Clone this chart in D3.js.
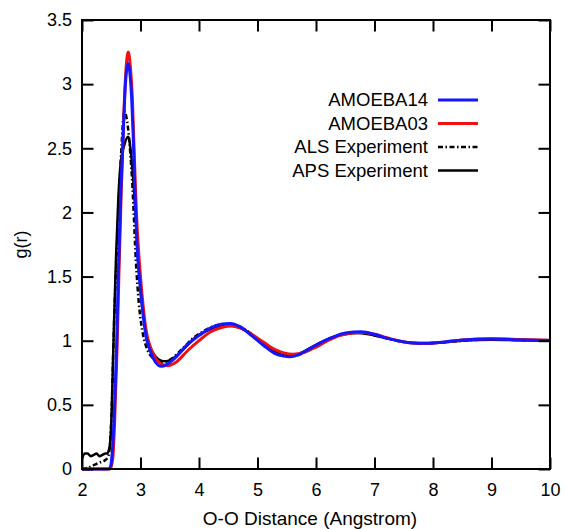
<!DOCTYPE html>
<html>
<head>
<meta charset="utf-8">
<script src="https://cdn.jsdelivr.net/npm/d3@7/dist/d3.min.js"></script>
<style>
  html, body { margin: 0; padding: 0; background: #fff; }
  svg { display: block; font-family: "Liberation Sans", Arial, Helvetica, sans-serif; }
</style>
</head>
<body>
<svg id="chart" width="565" height="529"></svg>
<script>
// ---------- DATA ----------
const seriesNames = ["AMOEBA14", "AMOEBA03", "ALS Experiment", "APS Experiment"];

// AMOEBA14 (blue)
const amoeba14R = [2.0, 2.45, 2.48, 2.5, 2.52, 2.55, 2.59, 2.62, 2.665, 2.70, 2.73, 2.76, 2.79, 2.82, 2.85, 2.875, 2.90, 2.94, 3.0, 3.05, 3.1, 3.16, 3.22, 3.3, 3.36, 3.45, 3.6, 3.8, 4.0, 4.2, 4.4, 4.53, 4.7, 4.9, 5.1, 5.3, 5.45, 5.55, 5.7, 5.9, 6.1, 6.3, 6.5, 6.77, 7.0, 7.2, 7.4, 7.6, 7.88, 8.2, 8.5, 9.0, 9.5, 10.0];
const amoeba14G = [0, 0, 0.01, 0.05, 0.15, 0.4, 0.93, 1.5, 2.18, 2.55, 2.9, 3.1, 3.16, 3.08, 2.88, 2.6, 2.22, 1.75, 1.4, 1.18, 1.02, 0.93, 0.86, 0.81, 0.80, 0.815, 0.87, 0.97, 1.04, 1.10, 1.13, 1.135, 1.11, 1.04, 0.965, 0.9, 0.88, 0.875, 0.89, 0.94, 0.99, 1.03, 1.06, 1.07, 1.05, 1.02, 1.0, 0.985, 0.98, 0.99, 1.005, 1.013, 1.006, 1.002];

// AMOEBA03 (red)
const amoeba03R = [2.0, 2.47, 2.5, 2.53, 2.56, 2.6, 2.63, 2.67, 2.71, 2.75, 2.79, 2.83, 2.86, 2.89, 2.93, 3.0, 3.05, 3.1, 3.17, 3.25, 3.35, 3.47, 3.6, 3.8, 4.0, 4.2, 4.4, 4.55, 4.7, 4.9, 5.1, 5.3, 5.45, 5.61, 5.8, 6.0, 6.2, 6.4, 6.6, 6.8, 7.0, 7.2, 7.4, 7.6, 7.9, 8.2, 8.5, 9.0, 9.5, 10.0];
const amoeba03G = [0, 0, 0.02, 0.1, 0.4, 0.95, 1.5, 2.15, 2.7, 3.1, 3.25, 3.12, 2.9, 2.5, 2.0, 1.5, 1.25, 1.07, 0.95, 0.87, 0.82, 0.805, 0.83, 0.92, 1.0, 1.07, 1.105, 1.115, 1.10, 1.05, 0.99, 0.93, 0.905, 0.895, 0.91, 0.95, 1.0, 1.04, 1.06, 1.065, 1.05, 1.025, 1.0, 0.985, 0.98, 0.99, 1.005, 1.016, 1.01, 1.003];

// ALS Experiment (dash-dot black)
const alsR = [2.0, 2.1, 2.2, 2.3, 2.4, 2.45, 2.48, 2.51, 2.535, 2.56, 2.59, 2.64, 2.68, 2.72, 2.76, 2.81, 2.865, 2.92, 2.97, 3.03, 3.1, 3.2, 3.3, 3.4, 3.5, 3.7, 3.9, 4.1, 4.3, 4.5, 4.7, 4.9, 5.1, 5.3, 5.5, 5.7, 5.9, 6.1, 6.3, 6.5, 6.7, 6.9, 7.1, 7.3, 7.5, 7.8, 8.1, 8.5, 9.0, 9.5, 10.0];
const alsG = [0, 0.01, 0.03, 0.05, 0.07, 0.1, 0.2, 0.5, 0.93, 1.3, 1.63, 2.18, 2.55, 2.79, 2.74, 2.55, 2.18, 1.63, 1.3, 1.08, 0.95, 0.87, 0.84, 0.835, 0.85, 0.93, 1.02, 1.08, 1.12, 1.13, 1.11, 1.05, 0.97, 0.91, 0.88, 0.89, 0.94, 0.99, 1.03, 1.055, 1.065, 1.055, 1.03, 1.01, 0.99, 0.98, 0.985, 1.0, 1.01, 1.005, 1.0];

// APS Experiment (solid black)
const apsR = [2.0, 2.05, 2.1, 2.15, 2.2, 2.25, 2.3, 2.35, 2.4, 2.43, 2.46, 2.48, 2.5, 2.535, 2.58, 2.62, 2.66, 2.72, 2.79, 2.84, 2.9, 2.96, 3.02, 3.08, 3.15, 3.25, 3.35, 3.44, 3.55, 3.75, 3.95, 4.15, 4.35, 4.5, 4.7, 4.9, 5.1, 5.3, 5.5, 5.65, 5.85, 6.05, 6.3, 6.5, 6.7, 6.9, 7.1, 7.3, 7.5, 7.8, 8.1, 8.5, 9.0, 9.5, 10.0];
const apsG = [0.08, 0.12, 0.12, 0.10, 0.11, 0.12, 0.10, 0.11, 0.12, 0.12, 0.15, 0.2, 0.35, 0.93, 1.63, 2.1, 2.38, 2.52, 2.59, 2.45, 2.1, 1.63, 1.3, 1.1, 0.97, 0.88, 0.845, 0.84, 0.86, 0.94, 1.03, 1.08, 1.11, 1.12, 1.10, 1.05, 0.97, 0.91, 0.885, 0.89, 0.93, 0.98, 1.03, 1.05, 1.06, 1.05, 1.03, 1.01, 0.99, 0.98, 0.985, 1.0, 1.008, 1.003, 1.0];

const xTicks = [2, 3, 4, 5, 6, 7, 8, 9, 10];
const xTickLabels = ["2", "3", "4", "5", "6", "7", "8", "9", "10"];
const yTicks = [0, 0.5, 1, 1.5, 2, 2.5, 3, 3.5];
const yTickLabels = ["0", "0.5", "1", "1.5", "2", "2.5", "3", "3.5"];

const xTitle = "O-O Distance (Angstrom)";
const yTitle = "g(r)";

// ---------- LAYOUT / STYLE ----------
const W = 565, H = 529;
const margin = { left: 82, right: 15, top: 20, bottom: 60 };
const plotW = W - margin.left - margin.right;
const plotH = H - margin.top - margin.bottom;
const tickLen = 11.5;
const fontSize = 18;
const titleSize = 19;

const svg = d3.select("#chart");
const g = svg.append("g").attr("transform", `translate(${margin.left},${margin.top})`);

const x = d3.scaleLinear().domain([2, 10]).range([0, plotW]);
const y = d3.scaleLinear().domain([0, 3.5]).range([plotH, 0]);

const zip = (rs, gs) => rs.map((r, i) => ({ r: r, g: gs[i] }));
const series = [
  { name: seriesNames[3], data: zip(apsR, apsG), color: "#000", width: 2.5, dash: null },
  { name: seriesNames[2], data: zip(alsR, alsG), color: "#000", width: 2.5, dash: "5,2.5,1.5,2.5" },
  { name: seriesNames[1], data: zip(amoeba03R, amoeba03G), color: "#ee1111", width: 3, dash: null },
  { name: seriesNames[0], data: zip(amoeba14R, amoeba14G), color: "#1515ff", width: 3, dash: null }
];

const line = d3.line().x(d => x(d.r)).y(d => y(d.g)).curve(d3.curveMonotoneX);

series.forEach(s => {
  g.append("path")
    .datum(s.data)
    .attr("fill", "none")
    .attr("stroke", s.color)
    .attr("stroke-width", s.width)
    .attr("stroke-linejoin", "round")
    .attr("stroke-dasharray", s.dash)
    .attr("d", line);
});

// ---------- AXES ----------
function styleAxis(sel) {
  sel.select(".domain").remove();
  sel.selectAll(".tick line").attr("stroke", "#000").attr("stroke-width", 2);
  sel.selectAll(".tick text").attr("fill", "#000").style("font-size", fontSize + "px")
    .style("font-family", '"Liberation Sans", Arial, Helvetica, sans-serif');
}

const xAxis = g.append("g").attr("transform", `translate(0,${plotH})`)
  .call(d3.axisBottom(x).tickValues(xTicks).tickFormat((d, i) => xTickLabels[i])
    .tickSizeInner(-tickLen).tickSizeOuter(0).tickPadding(14));
styleAxis(xAxis);
xAxis.selectAll(".tick text").attr("dy", "0.71em");

const xAxisTop = g.append("g")
  .call(d3.axisTop(x).tickValues(xTicks).tickFormat("").tickSizeInner(-tickLen).tickSizeOuter(0));
styleAxis(xAxisTop);

const yAxis = g.append("g")
  .call(d3.axisLeft(y).tickValues(yTicks).tickFormat((d, i) => yTickLabels[i])
    .tickSizeInner(-tickLen).tickSizeOuter(0).tickPadding(10));
styleAxis(yAxis);

const yAxisRight = g.append("g").attr("transform", `translate(${plotW},0)`)
  .call(d3.axisRight(y).tickValues(yTicks).tickFormat("").tickSizeInner(-tickLen).tickSizeOuter(0));
styleAxis(yAxisRight);

// frame
g.append("rect")
  .attr("x", 0).attr("y", 0).attr("width", plotW).attr("height", plotH)
  .attr("fill", "none").attr("stroke", "#000").attr("stroke-width", 2);

// titles
svg.append("text")
  .attr("x", 310).attr("y", 525)
  .attr("text-anchor", "middle")
  .style("font-size", titleSize + "px")
  .text(xTitle);

svg.append("text")
  .attr("transform", `translate(27,${margin.top + plotH / 2}) rotate(-90)`)
  .attr("text-anchor", "middle")
  .style("font-size", fontSize + "px")
  .text(yTitle);

// ---------- LEGEND ----------
const legendOrder = [3, 2, 1, 0]; // indices into series: AMOEBA14, AMOEBA03, ALS, APS
const legend = svg.append("g");
legendOrder.forEach((si, i) => {
  const s = series[si];
  const ly = 100 + i * 23.5;
  legend.append("text")
    .attr("x", 428).attr("y", ly).attr("dy", "0.35em")
    .attr("text-anchor", "end")
    .style("font-size", "18.5px")
    .text(s.name);
  legend.append("line")
    .attr("x1", 438).attr("x2", 478).attr("y1", ly).attr("y2", ly)
    .attr("stroke", s.color).attr("stroke-width", s.width)
    .attr("stroke-dasharray", s.dash);
});
</script>
</body>
</html>
